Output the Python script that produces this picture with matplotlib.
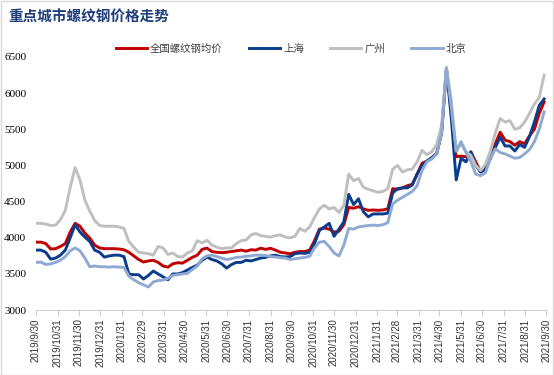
import pandas as pd
import matplotlib
matplotlib.use("Agg")
import matplotlib.pyplot as plt

plt.rcParams['font.family'] = ['Noto Sans CJK SC', 'DejaVu Sans']

# weekly samples
dates = pd.date_range("2019-09-30", periods=105, freq="7D")

national = [
    3940, 3940, 3920, 3845, 3850, 3880, 3920, 4080, 4200, 4160,
    4065, 3996, 3900, 3860, 3850, 3850, 3850, 3845, 3835, 3800,
    3750, 3700, 3665, 3680, 3690, 3660, 3610, 3595, 3640, 3655,
    3650, 3690, 3730, 3760, 3840, 3857, 3810, 3800, 3795, 3800,
    3810, 3820, 3830, 3815, 3835, 3830, 3857, 3840, 3855, 3830,
    3800, 3790, 3780, 3800, 3810, 3810, 3830, 3960, 4120, 4135,
    4120, 4080, 4090, 4180, 4420, 4410, 4430, 4400, 4380, 4385,
    4380, 4385, 4400, 4680, 4670, 4690, 4720, 4740, 4880, 5030,
    5060, 5100, 5170, 5450, 6340, 5750, 5120, 5130, 5120, 5185,
    5050, 4910, 4950, 5100, 5300, 5460, 5350, 5330, 5280, 5330,
    5300, 5410, 5500, 5720, 5880,
]
shanghai = [
    3830, 3830, 3800, 3705, 3720, 3760, 3830, 4000, 4180, 4080,
    4010, 3950, 3830, 3800, 3733, 3750, 3760, 3760, 3740, 3500,
    3490, 3490, 3430, 3480, 3540, 3500, 3460, 3420, 3500, 3500,
    3520, 3555, 3590, 3622, 3690, 3733, 3700, 3680, 3640, 3581,
    3630, 3660, 3660, 3690, 3680, 3700, 3720, 3730, 3750, 3760,
    3740, 3735, 3740, 3780, 3790, 3785, 3800, 3920, 4100, 4150,
    4200, 4020, 4120, 4220, 4600, 4460, 4540, 4360, 4290, 4330,
    4330, 4330, 4340, 4620, 4680, 4690, 4690, 4730, 4880, 5000,
    5060, 5110, 5160, 5450, 6340, 5650, 4800, 5100, 5050, 5190,
    5000, 4910, 4950, 5100, 5250, 5390, 5270, 5270, 5200, 5290,
    5250, 5400, 5600, 5830, 5920,
]
guangzhou = [
    4200, 4200, 4190, 4170, 4175, 4250, 4380, 4700, 4970, 4800,
    4520, 4370, 4240, 4170, 4160, 4160, 4160, 4150, 4130, 3950,
    3870, 3800, 3790, 3780, 3760, 3880, 3860, 3770, 3790, 3740,
    3735, 3790, 3820, 3960, 3930, 3965, 3900, 3870, 3850, 3860,
    3860, 3920, 3960, 3970, 4040, 4060, 4030, 4020, 4010, 4030,
    4040, 4010, 4000, 4020, 4130, 4090, 4150, 4280, 4400, 4450,
    4400, 4420, 4350, 4450, 4880, 4790, 4820, 4700, 4670, 4650,
    4630, 4640, 4680, 4950, 5000, 4910, 4940, 4950, 5050, 5210,
    5150, 5190, 5290, 5550, 6360, 5900, 5200, 5300, 5190, 5140,
    5000, 4930, 5020, 5200, 5450, 5650, 5600, 5620, 5500, 5520,
    5600, 5720, 5850, 5940, 6250,
]
beijing = [
    3660, 3664, 3630, 3640, 3660, 3690, 3740, 3820, 3860, 3820,
    3720, 3600, 3610, 3600, 3600, 3595, 3600, 3595, 3590, 3470,
    3420, 3380, 3350, 3320, 3390, 3410, 3415, 3440, 3480, 3490,
    3500, 3510, 3560, 3610, 3710, 3750, 3760, 3740, 3720, 3700,
    3710, 3730, 3733, 3745, 3750, 3760, 3760, 3755, 3740, 3735,
    3725, 3720, 3700, 3710, 3720, 3730, 3745, 3860, 3940, 3950,
    3880, 3790, 3750, 3900, 4130, 4120, 4150, 4160, 4170, 4175,
    4170, 4180, 4210, 4470, 4520, 4560, 4600, 4640, 4720, 4930,
    5050, 5090, 5160, 5450, 6340, 5800, 5200, 5330, 5180, 5050,
    4880, 4860, 4900, 5100, 5230, 5180, 5160, 5130, 5100, 5110,
    5160, 5220, 5330, 5500, 5740,
]

series = [
    ("全国螺纹钢均价", national, "#C00000"),
    ("上海", shanghai, "#0A3C8C"),
    ("广州", guangzhou, "#BFBFBF"),
    ("北京", beijing, "#8FAAD2"),
]

fig = plt.figure(figsize=(5.54, 3.75), dpi=100)
ax = fig.add_axes([0.065, 0.173, 0.921, 0.675])

for name, vals, color in series:
    ax.plot(dates, vals, color=color, linewidth=2.1, label=name)

ax.set_ylim(3000, 6500)
ax.set_yticks(range(3000, 7000, 500))
ax.set_xlim(pd.Timestamp("2019-09-30"), pd.Timestamp("2021-09-30"))

month_ends = pd.date_range("2019-09-30", "2021-09-30", freq="ME")
ax.set_xticks(month_ends)
ax.set_xticklabels([f"{d.year}/{d.month}/{d.day}" for d in month_ends],
                   rotation=90, fontsize=7, family=['Liberation Sans', 'DejaVu Sans'],
                   color="#333333")
for lab in ax.get_yticklabels():
    lab.set_family(['Liberation Serif', 'DejaVu Serif'])
    lab.set_fontsize(8)
ax.tick_params(axis='y', length=0, pad=7)
ax.tick_params(axis='x', length=4, color="#D0D0D0", direction='out', pad=2)

for side in ['top', 'right', 'left']:
    ax.spines[side].set_visible(False)
ax.spines['bottom'].set_color("#D0D0D0")

ax.legend(loc='upper center', bbox_to_anchor=(0.5, 1.09), ncol=4, frameon=False,
          fontsize=7.5, handlelength=3.0, columnspacing=2.5, handletextpad=0.3,
          labelcolor="#404040")

fig.text(0.015, 0.955, "重点城市螺纹钢价格走势", fontsize=10.5, fontweight='bold',
         color="#1F3E7A", va='center')

fig.patches.append(plt.Rectangle((0.001, 0.001), 0.997, 0.997, transform=fig.transFigure,
                                 fill=False, edgecolor="#D9D9D9", linewidth=1))

fig.savefig("out.png", dpi=100)
